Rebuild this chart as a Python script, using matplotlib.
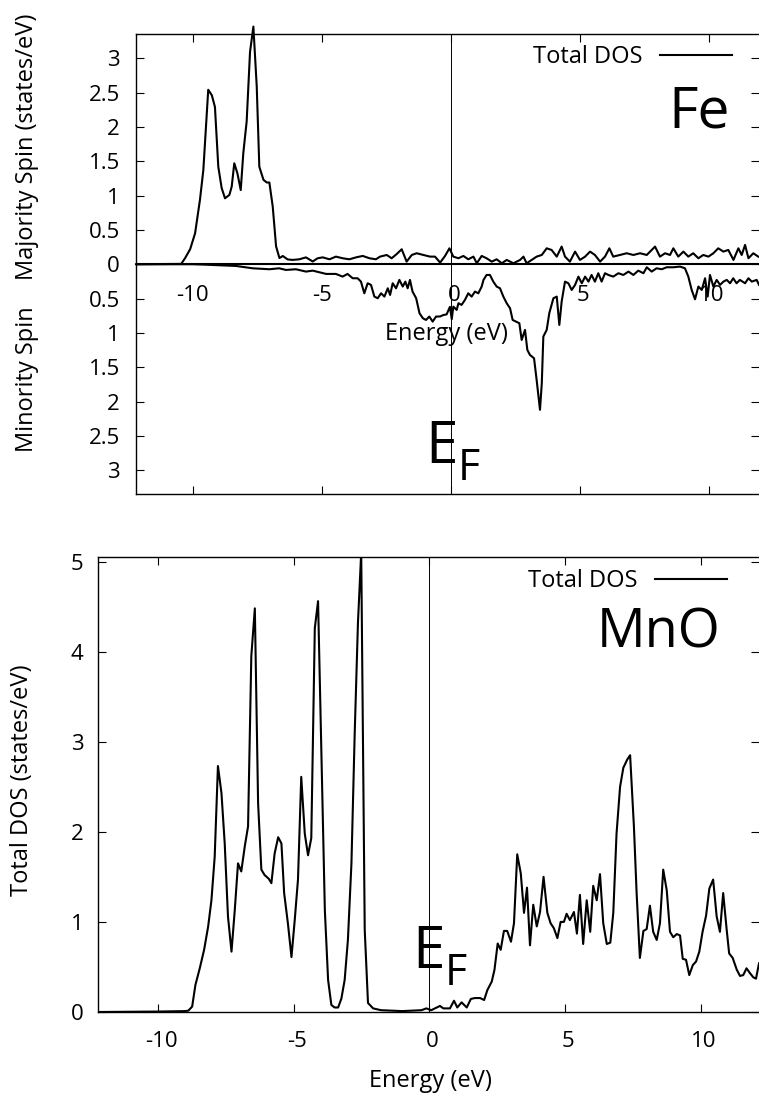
import matplotlib
matplotlib.use("Agg")
import numpy as np
import matplotlib.pyplot as plt
from matplotlib.ticker import FixedLocator, FuncFormatter
from matplotlib.transforms import ScaledTranslation

plt.rcParams["font.family"] = ["Open Sans", "DejaVu Sans"]

# ---------------- data ----------------
# Fe, majority spin (states/eV)
fe_up_energy = [-12.2, -10.45, -10.30, -10.10, -9.91, -9.72, -9.59, -9.40, -9.26, -9.14,
                -9.01, -8.88, -8.75, -8.58, -8.49, -8.39, -8.27, -8.14, -8.04, -7.91,
                -7.78, -7.65, -7.52, -7.42, -7.26, -7.13, -7.03, -6.90, -6.77, -6.64,
                -6.51, -6.32, -6.13, -5.87, -5.61, -5.35, -5.16, -4.96, -4.70, -4.45,
                -4.19, -3.93, -3.67, -3.41, -3.15, -2.90, -2.74, -2.48, -2.29, -2.09,
                -1.90, -1.71, -1.51, -1.32, -1.06, -0.80, -0.61, -0.41, -0.22, -0.05,
                0.10, 0.30, 0.49, 0.68, 0.88, 1.01, 1.20, 1.39, 1.59, 1.78,
                1.98, 2.17, 2.43, 2.69, 2.82, 2.94, 3.14, 3.33, 3.53, 3.72,
                3.91, 4.11, 4.30, 4.43, 4.62, 4.82, 5.01, 5.21, 5.40, 5.59,
                5.79, 5.98, 6.15, 6.30, 6.56, 6.82, 7.08, 7.34, 7.60, 7.92,
                8.11, 8.31, 8.50, 8.63, 8.82, 9.02, 9.21, 9.40, 9.60, 9.79,
                9.99, 10.18, 10.37, 10.57, 10.76, 10.96, 11.15, 11.28, 11.41, 11.54,
                11.73, 11.92]
fe_up_dos = [0.0, 0.005, 0.087, 0.22, 0.45, 0.94, 1.37, 2.54, 2.46, 2.29,
             1.42, 1.11, 0.96, 1.01, 1.13, 1.47, 1.325, 1.08, 1.62, 2.08,
             3.09, 3.46, 2.59, 1.42, 1.23, 1.19, 1.19, 0.84, 0.26, 0.09,
             0.12, 0.07, 0.063, 0.072, 0.10, 0.04, 0.087, 0.10, 0.072, 0.111,
             0.087, 0.072, 0.10, 0.121, 0.087, 0.072, 0.111, 0.135, 0.087, 0.150,
             0.218, 0.038, 0.135, 0.160, 0.135, 0.111, 0.111, 0.024, 0.121, 0.232,
             0.111, 0.087, 0.121, 0.072, 0.111, 0.014, 0.121, 0.087, 0.038, 0.072,
             0.014, 0.063, 0.014, 0.063, 0.111, 0.014, 0.063, 0.111, 0.135, 0.232,
             0.208, 0.111, 0.257, 0.111, 0.038, 0.184, 0.063, 0.111, 0.184, 0.135,
             0.038, 0.111, 0.232, 0.111, 0.135, 0.160, 0.135, 0.160, 0.135, 0.257,
             0.111, 0.160, 0.135, 0.232, 0.111, 0.184, 0.111, 0.160, 0.087, 0.135,
             0.111, 0.160, 0.232, 0.184, 0.208, 0.063, 0.232, 0.135, 0.281, 0.087,
             0.160, 0.111]

# Fe, minority spin (states/eV, drawn downwards)
fe_dn_energy = [-12.2, -10.0, -9.60, -8.97, -8.32, -7.68, -7.03, -6.65, -6.39, -6.00,
                -5.61, -5.35, -5.03, -4.83, -4.45, -4.19, -4.00, -3.80, -3.61, -3.48,
                -3.35, -3.22, -3.09, -2.96, -2.83, -2.70, -2.57, -2.44, -2.35, -2.25,
                -2.12, -1.99, -1.86, -1.76, -1.67, -1.58, -1.48, -1.34, -1.21, -1.08,
                -0.96, -0.83, -0.70, -0.57, -0.41, -0.29, -0.16, -0.03, 0.04, 0.10,
                0.23, 0.30, 0.42, 0.55, 0.68, 0.81, 0.94, 1.07, 1.20, 1.27,
                1.39, 1.52, 1.65, 1.78, 1.91, 2.04, 2.17, 2.30, 2.40, 2.53,
                2.66, 2.75, 2.88, 2.97, 3.07, 3.23, 3.33, 3.46, 3.53, 3.59,
                3.72, 3.82, 3.98, 4.11, 4.21, 4.30, 4.43, 4.56, 4.69, 4.82,
                4.95, 5.08, 5.21, 5.34, 5.46, 5.59, 5.72, 5.85, 5.98, 6.11,
                6.30, 6.50, 6.69, 6.89, 7.08, 7.27, 7.47, 7.60, 7.79, 7.98,
                8.18, 8.37, 8.63, 8.89, 9.08, 9.21, 9.34, 9.47, 9.60, 9.73,
                9.86, 9.96, 10.05, 10.18, 10.31, 10.44, 10.57, 10.70, 10.83, 10.95,
                11.08, 11.21, 11.41, 11.54, 11.67, 11.86, 11.95]
fe_dn_dos = [0.0, 0.0, 0.005, 0.015, 0.025, 0.059, 0.073, 0.059, 0.083, 0.073,
             0.107, 0.093, 0.122, 0.141, 0.141, 0.180, 0.141, 0.204, 0.204, 0.253,
             0.423, 0.277, 0.301, 0.471, 0.495, 0.423, 0.471, 0.350, 0.447, 0.277,
             0.350, 0.228, 0.325, 0.253, 0.350, 0.228, 0.398, 0.495, 0.714, 0.786,
             0.811, 0.762, 0.835, 0.762, 0.760, 0.740, 0.730, 0.620, 0.800, 0.617,
             0.665, 0.568, 0.592, 0.520, 0.423, 0.471, 0.398, 0.423, 0.325, 0.228,
             0.156, 0.156, 0.253, 0.325, 0.350, 0.471, 0.568, 0.641, 0.811, 0.835,
             0.859, 1.102, 0.956, 1.247, 1.320, 1.369, 1.684, 2.120, 1.733, 1.053,
             0.956, 0.714, 0.495, 0.471, 0.884, 0.544, 0.253, 0.277, 0.374, 0.301,
             0.180, 0.277, 0.180, 0.253, 0.156, 0.253, 0.131, 0.253, 0.131, 0.156,
             0.180, 0.131, 0.156, 0.107, 0.156, 0.093, 0.131, 0.044, 0.107, 0.059,
             0.073, 0.044, 0.044, 0.034, 0.059, 0.180, 0.374, 0.510, 0.325, 0.374,
             0.204, 0.471, 0.156, 0.325, 0.228, 0.301, 0.253, 0.228, 0.277, 0.204,
             0.277, 0.228, 0.277, 0.204, 0.253, 0.228, 0.300]

# MnO, total DOS (states/eV)
mno_energy = [-12.2, -10.0, -9.0, -8.88, -8.74, -8.62, -8.46, -8.30, -8.15, -8.03,
              -7.91, -7.79, -7.66, -7.54, -7.42, -7.29, -7.17, -7.05, -6.93, -6.80,
              -6.68, -6.56, -6.43, -6.31, -6.19, -6.07, -5.92, -5.82, -5.70, -5.57,
              -5.45, -5.35, -5.21, -5.08, -4.96, -4.84, -4.72, -4.59, -4.47, -4.35,
              -4.22, -4.10, -3.98, -3.85, -3.73, -3.61, -3.49, -3.36, -3.24, -3.12,
              -3.00, -2.87, -2.75, -2.63, -2.51, -2.38, -2.26, -2.07, -1.78, -1.00,
              -0.29, -0.11, 0.07, 0.21, 0.39, 0.52, 0.76, 0.91, 1.03, 1.19,
              1.38, 1.53, 1.68, 1.87, 2.02, 2.14, 2.30, 2.40, 2.52, 2.63,
              2.75, 2.87, 3.01, 3.12, 3.24, 3.37, 3.49, 3.60, 3.71, 3.83,
              3.96, 4.08, 4.21, 4.35, 4.47, 4.59, 4.72, 4.84, 4.96, 5.06,
              5.18, 5.33, 5.44, 5.55, 5.67, 5.80, 5.93, 6.04, 6.17, 6.29,
              6.41, 6.54, 6.67, 6.78, 6.90, 7.03, 7.15, 7.29, 7.40, 7.54,
              7.64, 7.76, 7.89, 8.01, 8.13, 8.25, 8.38, 8.50, 8.62, 8.75,
              8.87, 8.99, 9.12, 9.24, 9.34, 9.46, 9.58, 9.71, 9.83, 9.95,
              10.07, 10.20, 10.32, 10.46, 10.59, 10.71, 10.83, 10.96, 11.05, 11.18,
              11.33, 11.45, 11.57, 11.69, 11.82, 11.94, 12.04, 12.15]
mno_dos = [0.0, 0.005, 0.01, 0.015, 0.06, 0.30, 0.485, 0.69, 0.95, 1.24,
           1.72, 2.73, 2.43, 1.87, 1.06, 0.67, 1.13, 1.65, 1.56, 1.84,
           2.06, 3.95, 4.48, 2.32, 1.58, 1.52, 1.48, 1.43, 1.76, 1.94,
           1.87, 1.32, 0.98, 0.61, 1.02, 1.47, 2.61, 1.98, 1.74, 1.93,
           4.26, 4.56, 2.91, 1.13, 0.355, 0.078, 0.05, 0.05, 0.15, 0.355,
           0.80, 1.65, 3.09, 4.32, 5.10, 0.91, 0.10, 0.04, 0.02, 0.01,
           0.02, 0.04, 0.02, 0.04, 0.067, 0.04, 0.04, 0.125, 0.05, 0.107,
           0.05, 0.145, 0.155, 0.155, 0.133, 0.244, 0.337, 0.466, 0.76, 0.69,
           0.90, 0.90, 0.78, 0.985, 1.75, 1.54, 1.10, 1.38, 0.74, 1.19,
           0.95, 1.11, 1.50, 1.10, 0.985, 0.93, 0.82, 1.0, 1.0, 1.09,
           1.02, 1.11, 0.87, 1.30, 0.755, 1.24, 0.89, 1.40, 1.24, 1.53,
           0.985, 0.755, 0.77, 1.10, 1.98, 2.50, 2.71, 2.80, 2.85, 2.06,
           1.32, 0.60, 0.90, 0.92, 1.18, 0.89, 0.80, 0.985, 1.58, 1.35,
           0.89, 0.83, 0.865, 0.85, 0.59, 0.58, 0.41, 0.52, 0.56, 0.67,
           0.89, 1.07, 1.37, 1.47, 1.06, 0.89, 1.32, 0.91, 0.65, 0.60,
           0.47, 0.40, 0.41, 0.485, 0.43, 0.385, 0.37, 0.54]

energy_ticks = [-10, -5, 0, 5, 10]
fe_dos_ticks = [-3, -2.5, -2, -1.5, -1, -0.5, 0, 0.5, 1, 1.5, 2, 2.5, 3]
mno_dos_ticks = [0, 1, 2, 3, 4, 5]

# ---------------- layout helpers (pixel coordinates) ----------------
W, H = 759, 1097
fig = plt.figure(figsize=(W / 100, H / 100), dpi=100)


def fx(px):
    return px / W


def fy(py):
    return 1 - py / H


TICK_FS = 16
LABEL_FS = 17
LINE_W = 1.5
# non-negative energy labels sit a little right of their tick
POS_SHIFT = ScaledTranslation(2.2 / 72, 0, fig.dpi_scale_trans)

# ---------------- Fe panel ----------------
ax1 = fig.add_axes([fx(136), fy(494), 1 - fx(136), (494 - 34) / H])
ax1.set_xlim(-12.2, 11.95)
ax1.set_ylim(-3.345, 3.352)
up_line, = ax1.plot(fe_up_energy, fe_up_dos, color="black", lw=LINE_W, clip_on=False,
                    label="Total DOS")
ax1.plot(fe_dn_energy, -np.asarray(fe_dn_dos), color="black", lw=LINE_W)
ax1.axhline(0, color="black", lw=1.5)
ax1.axvline(0, color="black", lw=0.7)

ax1.xaxis.set_major_locator(FixedLocator(energy_ticks))
ax1.yaxis.set_major_locator(FixedLocator(fe_dos_ticks))
ax1.yaxis.set_major_formatter(FuncFormatter(lambda v, p: f"{abs(v):g}"))
ax1.tick_params(axis="both", direction="in", length=5.8, width=0.8,
                top=True, right=True, labelbottom=False, labelsize=TICK_FS)
ax1.tick_params(axis="y", pad=11.5)
for t in energy_ticks:
    tr = ax1.transData + POS_SHIFT if t >= 0 else ax1.transData
    ax1.text(t, -0.534, f"{t:g}", ha="center", va="baseline", fontsize=TICK_FS,
             transform=tr)
ax1.spines["right"].set_visible(False)
for s in ("left", "top", "bottom"):
    ax1.spines[s].set_linewidth(1.0)

ax1.legend(handles=[up_line], labels=["Total DOS"], loc="center right",
           bbox_to_anchor=(fx(732), fy(57)), bbox_transform=fig.transFigure,
           frameon=False, markerfirst=False, fontsize=LABEL_FS,
           handlelength=3.05, handletextpad=0.72, borderpad=0, borderaxespad=0)

fig.text(fx(446), fy(340), "Energy (eV)", ha="center", va="baseline", fontsize=LABEL_FS)
fig.text(fx(27), fy(147), "Majority Spin (states/eV)", rotation=90,
         ha="center", va="center", fontsize=LABEL_FS)
fig.text(fx(27), fy(379), "Minority Spin", rotation=90,
         ha="center", va="center", fontsize=LABEL_FS)
fig.text(fx(730), fy(128), "Fe", ha="right", va="baseline", fontsize=41)
e_top = fig.text(fx(425), fy(463), "E", ha="left", va="baseline", fontsize=42)

# ---------------- MnO panel ----------------
ax2 = fig.add_axes([fx(98), fy(1012), 1 - fx(98), (1012 - 557) / H])
ax2.set_xlim(-12.21, 12.15)
ax2.set_ylim(0, 5.05)
mno_line, = ax2.plot(mno_energy, mno_dos, color="black", lw=LINE_W, label="Total DOS")
ax2.axvline(0, color="black", lw=0.7)

ax2.xaxis.set_major_locator(FixedLocator(energy_ticks))
ax2.yaxis.set_major_locator(FixedLocator(mno_dos_ticks))
ax2.xaxis.set_major_formatter(FuncFormatter(lambda v, p: f"{v:g}"))
ax2.tick_params(axis="both", direction="in", length=5.8, width=0.8,
                top=True, right=True, labelsize=TICK_FS)
ax2.tick_params(axis="x", pad=14)
ax2.tick_params(axis="y", pad=10.5)
ax2.spines["right"].set_visible(False)
for s in ("left", "top", "bottom"):
    ax2.spines[s].set_linewidth(1.0)
for tick in ax2.xaxis.get_major_ticks():
    if tick.get_loc() >= 0:
        tick.label1.set_transform(tick.label1.get_transform() + POS_SHIFT)

ax2.legend(handles=[mno_line], labels=["Total DOS"], loc="center right",
           bbox_to_anchor=(fx(727), fy(581)), bbox_transform=fig.transFigure,
           frameon=False, markerfirst=False, fontsize=LABEL_FS,
           handlelength=3.05, handletextpad=0.72, borderpad=0, borderaxespad=0)

fig.text(fx(430), fy(1087), "Energy (eV)", ha="center", va="baseline", fontsize=LABEL_FS)
fig.text(fx(22), fy(780), "Total DOS (states/eV)", rotation=90,
         ha="center", va="center", fontsize=LABEL_FS)
fig.text(fx(720), fy(647), "MnO", ha="right", va="baseline", fontsize=39)
e_bot = fig.text(fx(412), fy(968), "E", ha="left", va="baseline", fontsize=42)

# Fermi-level subscripts: placed right after the "E" glyph box
fig.canvas.draw()
renderer = fig.canvas.get_renderer()
for e_txt, sub_x, sub_y in ((e_top, 453, 480), (e_bot, 441, 985)):
    right = e_txt.get_window_extent(renderer).x1 + 0.5
    fig.text(max(fx(sub_x), right / W), fy(sub_y), "F", ha="left", va="baseline",
             fontsize=31)

fig.savefig("out.png", dpi=100)
